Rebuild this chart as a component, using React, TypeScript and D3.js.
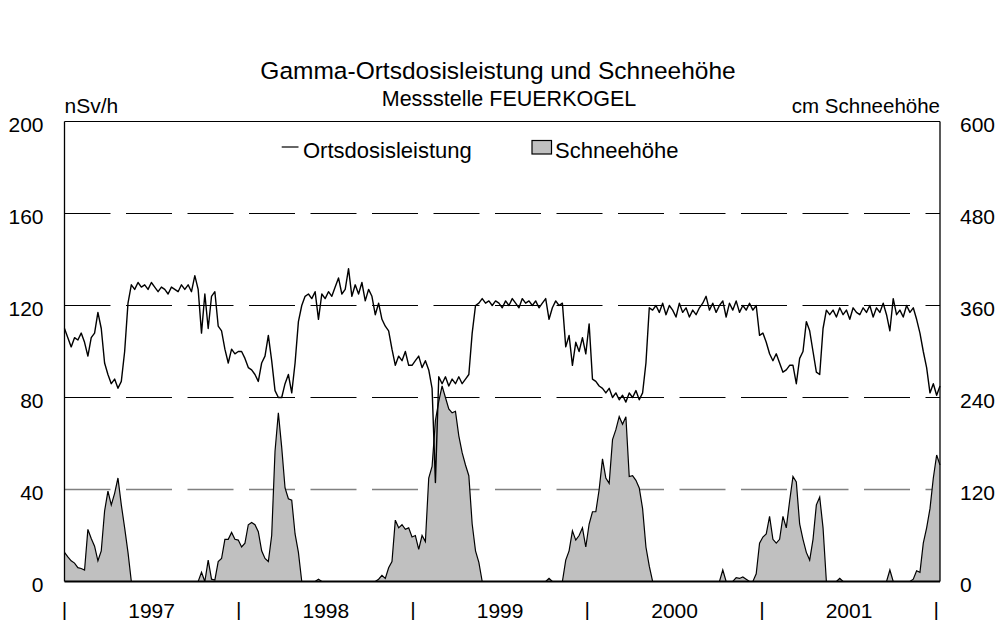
import React from 'react';
import * as d3 from 'd3';

// weekly values starting 1997-01-01
const DOSE: number[] = [
  110,106,102,106,105,108,104,98,106,108,
  117,110,95,90,86,88,84,87,100,121,
  129,127,130,128,129,127,130,128,126,128,
  127,125,128,127,126,129,127,129,126,133,
  127,108,125,110,124,126,111,109,101,95,
  101,99,100,100,97,93,92,90,87,95,
  98,107,96,83,80,80,86,90,82,95,
  113,120,124,125,123,126,114,125,123,126,
  124,128,132,125,127,136,124,129,125,130,
  122,127,124,116,121,114,111,109,101,94,
  98,96,100,94,94,96,98,93,96,92,
  84,43,89,86,89,85,88,86,89,86,
  88,90,108,120,121,123,121,122,120,122,
  121,119,122,120,123,121,119,123,121,122,
  120,122,119,121,123,114,119,122,120,121,
  102,107,94,104,100,106,99,112,88,87,
  85,84,82,84,80,82,79,81,78,82,
  80,83,79,82,95,119,118,120,117,121,
  116,120,118,115,121,117,119,115,118,116,
  119,121,124,118,121,117,120,122,115,121,
  118,122,117,120,118,121,118,120,107,108,
  104,99,96,99,95,91,92,94,94,86,
  97,100,113,109,100,91,90,110,118,116,
  118,115,119,116,118,114,119,117,116,119,
  117,120,115,119,117,121,116,109,123,116,
  118,115,120,117,119,114,108,100,93,82,
  86,81,85,
];

const SNOW: number[] = [
  38,32,27,24,18,17,15,68,56,46,
  27,40,92,118,100,115,135,100,70,38,
  0,0,0,0,0,0,0,0,0,0,
  0,0,0,0,0,0,0,0,0,0,
  0,12,0,28,3,2,26,30,55,55,
  64,55,54,45,50,74,77,74,65,40,
  30,26,60,170,220,175,122,108,106,62,
  38,0,0,0,0,0,3,0,0,0,
  0,0,0,0,0,0,0,0,0,0,
  0,0,0,0,3,8,4,18,26,80,
  70,74,68,70,58,60,42,60,52,135,
  150,210,235,255,240,225,220,222,190,168,
  152,138,75,40,25,0,0,0,0,0,
  0,0,0,0,0,0,0,0,0,0,
  0,0,0,0,0,4,0,0,0,0,
  28,40,66,54,60,70,45,75,91,91,
  120,160,135,128,185,198,215,205,215,137,
  138,132,122,95,45,20,0,0,0,0,
  0,0,0,0,0,0,0,0,0,0,
  0,0,0,0,0,0,0,15,0,0,
  0,5,4,6,3,0,0,10,50,58,
  62,85,55,50,55,85,70,105,137,130,
  75,55,38,28,55,100,110,70,0,0,
  0,0,4,0,0,0,0,0,0,0,
  0,0,0,0,0,0,0,15,0,0,
  0,0,0,0,3,14,12,50,70,95,
  135,165,152,
];

const YEARS = ['1997', '1998', '1999', '2000', '2001'];
const LEFT_TICKS = [0, 40, 80, 120, 160, 200];
const RIGHT_TICKS = [0, 120, 240, 360, 480, 600];
const GRID = [40, 80, 120, 160];
const TITLE = ['Gamma-Ortsdosisleistung und Schneehöhe', 'Messstelle FEUERKOGEL'];

const FONT = '"Liberation Sans", Arial, Helvetica, sans-serif';

export default function App() {
  const W = 997, H = 620;
  const x0 = 64.5, x1 = 940, yTop = 121.5, yBot = 581.5;
  const start = new Date(1997, 0, 1);
  const dates = DOSE.map((_, i) => d3.timeDay.offset(start, 7 * i));
  const x = d3.scaleTime().domain([start, dates[dates.length - 1]]).range([x0, x1]);
  const yL = d3.scaleLinear().domain([0, 200]).range([yBot, yTop]);
  const yR = d3.scaleLinear().domain([0, 600]).range([yBot, yTop]);

  const area = d3.area<number>().x((_, i) => x(dates[i])).y0(yBot).y1(d => yR(d));
  const snowLine = d3.line<number>().x((_, i) => x(dates[i])).y(d => yR(d));
  const doseLine = d3.line<number>().x((_, i) => x(dates[i])).y(d => yL(d));

  const yearStarts = d3.range(1997, 2003).map(yv => new Date(yv, 0, 1));
  const fs = 21;

  return (
    <svg width={W} height={H} style={{ position: 'absolute', left: 0, top: 0, background: '#fff' }}
      fontFamily={FONT} fontSize={fs}>
      <rect x={0} y={0} width={W} height={H} fill="#fff" />
      <text x={498} y={78.5} textAnchor="middle" fontSize={24.5}>{TITLE[0]}</text>
      <text x={509} y={106} textAnchor="middle" fontSize={21.5}>{TITLE[1]}</text>

      {GRID.map(g => (
        <line key={g} x1={x0} x2={x1} y1={yL(g)} y2={yL(g)}
          stroke={g === 40 ? '#808080' : '#000'} strokeWidth={g === 40 ? 1.5 : 1}
          strokeDasharray="46 15.5" />
      ))}

      <path d={area(SNOW) || ''} fill="#c0c0c0" stroke="none" />
      <path d={snowLine(SNOW) || ''} fill="none" stroke="#000" strokeWidth={1.2} />
      <path d={doseLine(DOSE) || ''} fill="none" stroke="#000" strokeWidth={1.4} strokeLinejoin="round" />

      <line x1={x0} x2={x1} y1={yTop} y2={yTop} stroke="#000" strokeWidth={1} />
      <line x1={x0} x2={x0} y1={yTop} y2={yBot} stroke="#000" strokeWidth={1.3} />
      <line x1={x1} x2={x1} y1={yTop} y2={yBot} stroke="#000" strokeWidth={1.3} />
      <line x1={x0} x2={x1} y1={yBot} y2={yBot} stroke="#000" strokeWidth={2} />

      {LEFT_TICKS.map(t => (
        <text key={'l' + t} x={43.5} y={yL(t) + 10.3} textAnchor="end">{t}</text>
      ))}
      {RIGHT_TICKS.map(t => (
        <text key={'r' + t} x={960} y={yR(t) + 10.3} textAnchor="start">{t}</text>
      ))}
      <text x={x0} y={113} textAnchor="start">nSv/h</text>
      <text x={x1} y={113} textAnchor="end" fontSize={20.5}>cm Schneehöhe</text>

      {yearStarts.map((d, i) => (
        <text key={'t' + i} x={x(d)} y={617} textAnchor="middle">|</text>
      ))}
      {YEARS.map((yr, i) => (
        <text key={yr} x={(x(yearStarts[i]) + x(yearStarts[i + 1])) / 2} y={617.5} textAnchor="middle">{yr}</text>
      ))}

      <line x1={281.7} x2={298.5} y1={147} y2={147} stroke="#000" strokeWidth={1.2} />
      <text x={303} y={158.3} fontSize={22}>Ortsdosisleistung</text>
      <rect x={532} y={140.5} width={19.5} height={13.5} fill="#c0c0c0" stroke="#000" strokeWidth={1.2} />
      <text x={555} y={158.3} fontSize={22}>Schneehöhe</text>
    </svg>
  );
}
